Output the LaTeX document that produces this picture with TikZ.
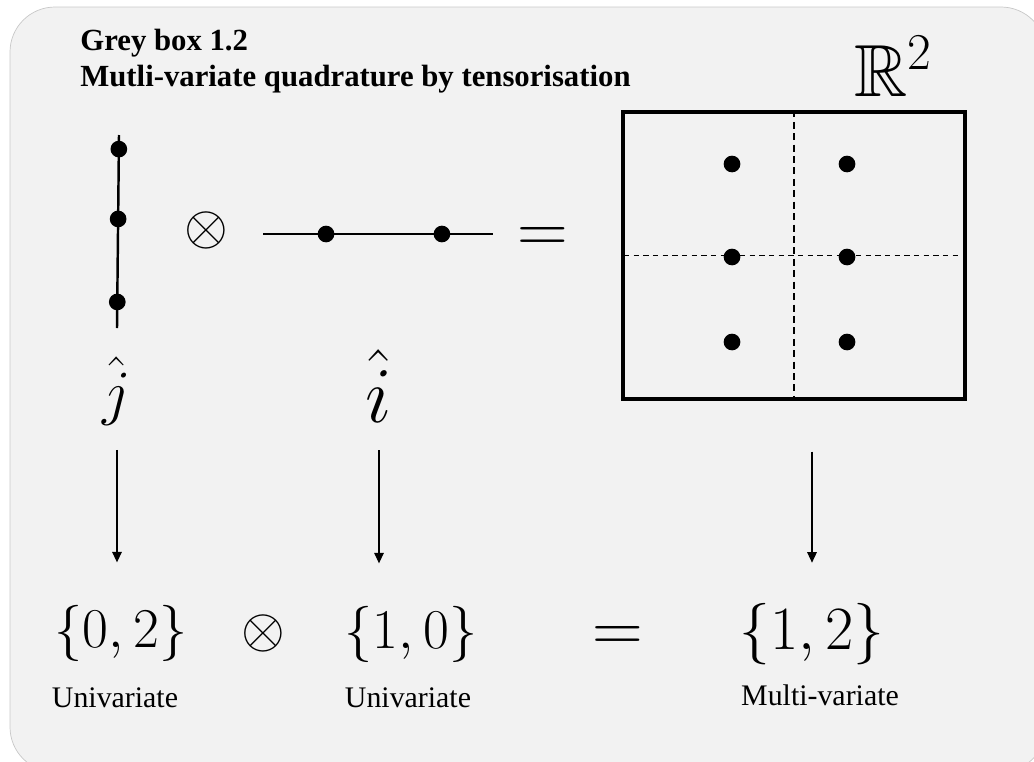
\RequirePackage{fix-cm}
\documentclass[tikz,border=0pt]{standalone}
\usepackage{amsmath}
\usepackage{amssymb}
\usepackage[no-math]{fontspec}
\usepackage{tikz}
\usetikzlibrary{arrows.meta, positioning}
\newfontfamily\boxfont{Liberation Serif}
\definecolor{boxgrey}{RGB}{242,242,242}
\definecolor{boxedge}{RGB}{200,200,200}
\tikzset{
  qdot/.style={circle, fill=black, inner sep=0pt, minimum size=9.5pt},
  axisline/.style={line width=1.4pt, color=black},
  vgrid/.style={dash pattern=on 4pt off 2.5pt, line width=0.9pt},
  hgrid/.style={dash pattern=on 3pt off 2.5pt, line width=0.6pt},
  arrow/.style={-{Triangle[width=5.5pt, length=6pt]}, line width=0.6pt},
  bigmath/.style={inner sep=0pt, anchor=base},
  setlabel/.style={inner sep=0pt, anchor=base, font=\boxfont\fontsize{17}{20}\selectfont},
  titletext/.style={inner sep=0pt, anchor=base west, font=\boxfont\bfseries\fontsize{17.5}{20}\selectfont}
}
\begin{document}
\begin{tikzpicture}[x=0.02cm, y=-0.02cm]
  \useasboundingbox (0,0) rectangle (1034,761);
  % Grey panel
  \draw[fill=boxgrey, draw=boxedge, line width=0.4pt, rounded corners=0.9cm] (10,7) rectangle (1046,772);

  % Title
  \node[titletext] (title) at (80,50) {Grey box 1.2};
  \node[titletext] (subtitle) at (80,86) {Mutli-variate quadrature by tensorisation};

  % Univariate rule along j
  \coordinate (jtop) at (119,135);
  \coordinate (jbot) at (117,328);
  \draw[axisline] (jtop) -- (jbot)
    node[qdot, pos=0.073] (j1) {}
    node[qdot, pos=0.435] (j2) {}
    node[qdot, pos=0.865] (j3) {};
  \node[bigmath, font=\fontsize{32}{36}\selectfont] (otA) at (206,244) {$\otimes$};

  % Univariate rule along i
  \coordinate (ileft) at (263,234);
  \coordinate (iright) at (493,234);
  \draw[axisline, line width=1.3pt] (ileft) -- (iright)
    node[qdot, pos=0.274] (i1) {}
    node[qdot, pos=0.778] (i2) {};
  \node[bigmath, font=\fontsize{40}{44}\selectfont] (eqA) at (543,252) {$=$};

  % Tensor grid in R^2
  \node[draw, line width=1.9pt, minimum width=6.84cm, minimum height=5.74cm, inner sep=0pt] (plane) at (794,255.5) {};
  \draw[vgrid] (plane.north) -- (plane.south);
  \draw[hgrid] ([xshift=1.5pt]plane.west) -- ([xshift=-3pt]plane.east);
  \foreach \x in {732, 847} {
    \foreach \y in {164, 257, 342} {
      \node[qdot] (g-\x-\y) at (\x,\y) {};
    }
  }
  \node[bigmath, anchor=base west, font=\fontsize{42}{46}\selectfont] (space) at (854,96) {$\mathbb{R}^2$};

  % Index labels
  \node[bigmath, font=\fontsize{35}{40}\selectfont] (jhat) at (117,413) {$\hat{j}$};
  \node[bigmath, font=\fontsize{45}{50}\selectfont] (ihat) at (379,422) {$\hat{i}$};

  % Multi-index sets
  \node[bigmath, font=\fontsize{32}{36}\selectfont] (setA) at (121,647) {$\{0,2\}$};
  \node[bigmath, font=\fontsize{32}{36}\selectfont] (otB) at (263,647) {$\otimes$};
  \node[bigmath, font=\fontsize{32}{36}\selectfont] (setB) at (411,648) {$\{1,0\}$};
  \node[bigmath, font=\fontsize{40}{44}\selectfont] (eqB) at (618,651) {$=$};
  \node[bigmath, font=\fontsize{35}{40}\selectfont] (setC) at (812,649) {$\{1,2\}$};
  \node[setlabel] (uniA) at (115,707) {Univariate};
  \node[setlabel] (uniB) at (408,707) {Univariate};
  \node[setlabel] (multi) at (820,705) {Multi-variate};

  % Arrows down to the sets
  \draw[arrow, shorten <=14pt, shorten >=24pt] (jhat.south) -- (jhat.south |- setA.north);
  \draw[arrow, shorten <=16pt, shorten >=24pt] (ihat.south) -- (ihat.south |- setB.north);
  \draw[arrow, shorten <=29pt, shorten >=22.7pt] (setC.north |- plane.south) -- (setC.north);
\end{tikzpicture}
\end{document}
